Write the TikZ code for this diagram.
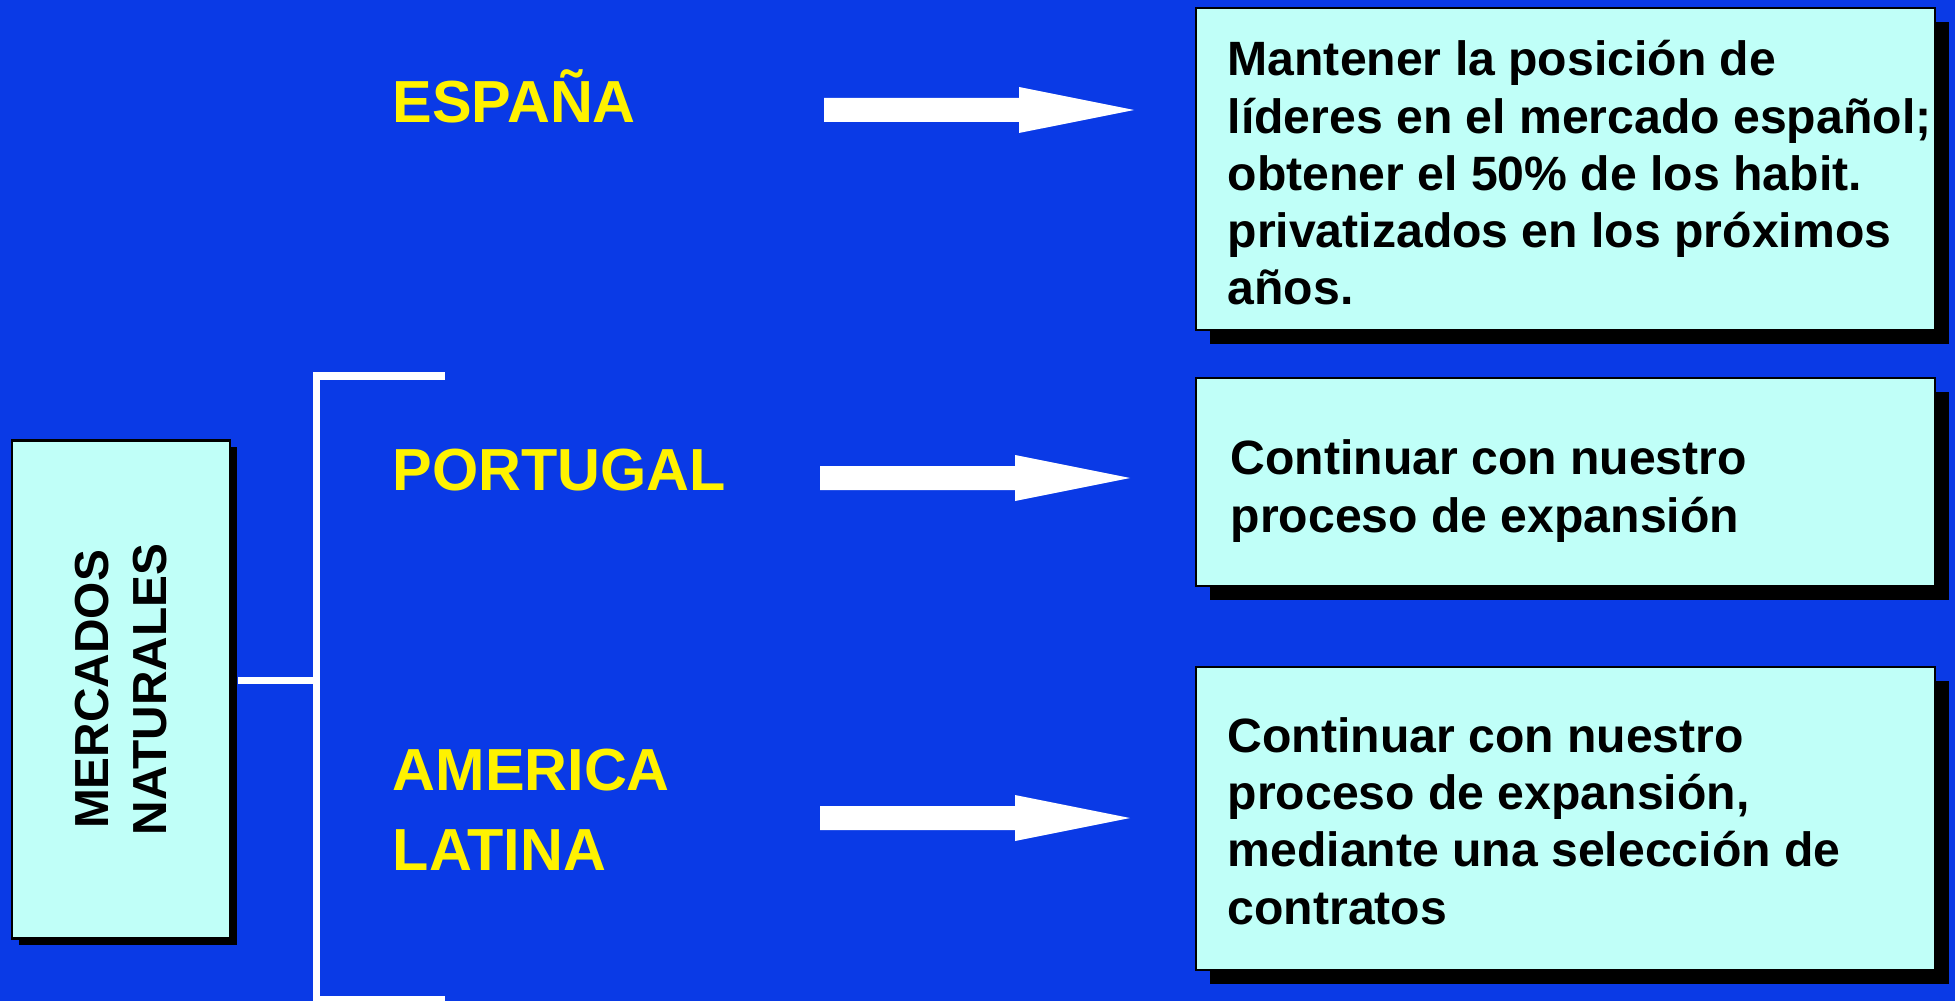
\documentclass[tikz,border=0pt]{standalone}
\usepackage{fontspec}
\setmainfont{Liberation Sans}
\usetikzlibrary{shadows,calc}

% white block arrow between two named coordinates
\newcommand{\fatarrow}[2]{%
  \fill[white] ($(#1)+(0,0.12)$) -- ($(#2)+(-1.15,0.12)$) -- ($(#2)+(-1.15,0.23)$)
    -- (#2) -- ($(#2)+(-1.15,-0.23)$) -- ($(#2)+(-1.15,-0.12)$) -- ($(#1)+(0,-0.12)$) -- cycle;}

\begin{document}
\begin{tikzpicture}[
        box/.style={draw=black, line width=0.6pt, fill=boxfill, inner sep=0pt,
            drop shadow={shadow xshift=#1, shadow yshift=-#1, fill=black, opacity=1}},
        box/.default=0.14cm,
        boxtext/.style={align=left, inner sep=0pt, font=\fontsize{13.7}{16.3}\selectfont\bfseries},
        country/.style={text=yellow, align=left, inner sep=0pt, font=\fontsize{16.9}{22.8}\selectfont\bfseries},
        wline/.style={white, line width=0.075cm}
    ]
        % Define colors
        \definecolor{bg}{RGB}{10, 58, 230}
        \definecolor{boxfill}{RGB}{192, 255, 248}

        \useasboundingbox (0,0) rectangle (19.55,10.01);
        \fill[bg] (0,0) rectangle (19.55,10.01);

        % --- LEFT BOX ---
        \node[box=0.065cm, minimum width=2.18cm, minimum height=4.98cm] (mk) at (1.21,3.115) {};
        \node[boxtext, align=center, rotate=90, font=\fontsize{13.6}{16.5}\selectfont\bfseries] (mktxt) at (mk.center) {MERCADOS\\NATURALES};

        % Bracket
        \coordinate (brtop) at (3.165,6.25);
        \coordinate (brbot) at (3.165,0.0125);
        \draw[wline] ([xshift=1.285cm]brtop) -- (brtop) -- (brbot) -- ([xshift=1.285cm]brbot);
        \draw[wline, shorten <=0.07cm] ([yshift=0.09cm]mk.east) -- ([yshift=0.09cm]mk.east -| brtop);

        % --- COUNTRIES ---
        \node[country, anchor=base west] (es) at (3.92,8.783) {ESPAÑA};
        \node[country, anchor=base west] (pt) at (3.92,5.103) {PORTUGAL};
        \node[country, anchor=north west] (al) at (3.92,2.53) {AMERICA\\LATINA};

        % --- GOAL BOXES ---
        \node[box, minimum width=7.39cm, minimum height=3.22cm] (b1) at (15.655,8.32) {};
        \node[box, minimum width=7.39cm, minimum height=2.08cm] (b2) at (15.655,5.19) {};
        \node[box, minimum width=7.39cm, minimum height=3.03cm] (b3) at (15.655,1.825) {};

        \node[boxtext, anchor=west] (t1) at ([xshift=0.32cm, yshift=-0.04cm]b1.west)
            {Mantener la posición de\\líderes en el mercado español;\\obtener el 50\% de los habit.\\privatizados en los próximos\\años.};
        \node[boxtext, anchor=west] (t2) at ([xshift=0.35cm, yshift=-0.09cm]b2.west)
            {Continuar con nuestro\\proceso de expansión};
        \node[boxtext, anchor=west] (t3) at ([xshift=0.32cm, yshift=-0.025cm]b3.west)
            {Continuar con nuestro\\proceso de expansión,\\mediante una selección de\\contratos};

        % --- ARROWS ---
        \coordinate (a1s) at (8.24,8.91);
        \coordinate (a1e) at (11.34,8.91);
        \coordinate (a2s) at (8.20,5.23);
        \coordinate (a2e) at (11.30,5.23);
        \coordinate (a3s) at (8.20,1.83);
        \coordinate (a3e) at (11.30,1.83);
        \fatarrow{a1s}{a1e}
        \fatarrow{a2s}{a2e}
        \fatarrow{a3s}{a3e}
    \end{tikzpicture}
\end{document}
